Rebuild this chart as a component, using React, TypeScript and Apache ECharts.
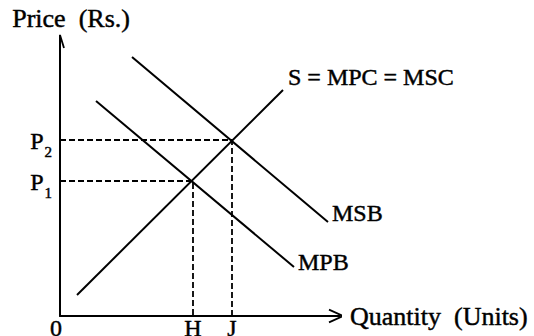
import React, { useEffect, useRef } from "react";
import * as echarts from "echarts";

// Curves in (quantity, price) units
const supplyLine: number[][] = [[0.85, 1.05], [11.15, 11.3]];
const msbLine: number[][] = [[3.6, 12.95], [13.4, 4.7]];
const mpbLine: number[][] = [[1.8, 10.75], [11.7, 2.45]];
// Equilibria: quantities H, J and prices P1, P2
const equilibriumQ: number[] = [6.65, 8.6];
const equilibriumP: number[] = [6.75, 8.8];
const qLabels: string[] = ["H", "J"];
const pSubscripts: string[] = ["1", "2"];
const curveNames: string[] = ["S = MPC = MSC", "MSB", "MPB"];
const xTitle = "Quantity  (Units)";
const yTitle = "Price  (Rs.)";
const axisMax = 14;

const FONT = "'Liberation Serif', 'Times New Roman', serif";
const BOLDEN = { textBorderColor: "#000", textBorderWidth: 0.45 };

export default function App() {
  const ref = useRef<HTMLDivElement>(null);
  useEffect(() => {
    document.body.style.margin = "0";
    if (!ref.current) return;
    const chart = echarts.init(ref.current, null, { renderer: "svg" });
    const black = "#000";
    const solid = { color: black, width: 2 };
    const dashed = { color: black, width: 1.8, type: [6, 3] as any };

    const curve = (name: string, data: number[][], offset: number[]) => ({
      type: "line",
      name,
      data,
      symbol: "none",
      lineStyle: solid,
      silent: true,
      endLabel: {
        show: true,
        formatter: name,
        offset,
        distance: 0,
        align: "left",
        verticalAlign: "middle",
        fontFamily: FONT,
        fontSize: 24,
        color: black,
        ...BOLDEN,
      },
    });

    const guides = equilibriumQ.map((q, i) => ({
      type: "line",
      data: [[0, equilibriumP[i]], [q, equilibriumP[i]], [q, 0]],
      symbol: "none",
      lineStyle: dashed,
      silent: true,
    }));

    const arrows = [
      [[axisMax - 0.55, 0.32], [axisMax + 0.15, 0], [axisMax - 0.55, -0.32]],
      [[-0.2, axisMax - 0.6], [0, axisMax + 0.05], [0.2, axisMax - 0.6]],
    ].map((d) => ({
      type: "line",
      data: d,
      symbol: "none",
      clip: false,
      lineStyle: { color: black, width: 1.8 },
      silent: true,
    }));

    chart.setOption({
      animation: false,
      backgroundColor: "#fff",
      grid: { left: 60, top: 36, width: 280, height: 280, outerBoundsMode: "none" },
      xAxis: {
        type: "value",
        min: 0,
        max: axisMax,
        splitLine: { show: false },
        axisTick: { show: false },
        axisLine: { show: true, onZero: false, lineStyle: solid },
        name: xTitle,
        nameLocation: "end",
        nameGap: 10,
        nameTextStyle: {
          fontFamily: FONT,
          fontSize: 26,
          color: black,
          align: "left",
          verticalAlign: "middle",
          ...BOLDEN,
        },
        axisLabel: {
          customValues: [0, ...equilibriumQ],
          margin: 0,
          verticalAlign: "top",
          fontFamily: FONT,
          fontSize: 24,
          color: black,
          ...BOLDEN,
          formatter: (v: number) => {
            const i = equilibriumQ.indexOf(v);
            return i < 0 ? "{z|0}" : qLabels[i];
          },
          rich: { z: { fontFamily: FONT, fontSize: 24, color: black, padding: [0, 8, 0, 0], ...BOLDEN } },
        },
      },
      yAxis: {
        type: "value",
        min: 0,
        max: axisMax,
        splitLine: { show: false },
        axisTick: { show: false },
        axisLine: { show: true, onZero: false, lineStyle: solid },
        axisLabel: {
          customValues: equilibriumP,
          margin: 8,
          padding: [8, 0, 0, 0],
          fontFamily: FONT,
          fontSize: 24,
          color: black,
          formatter: (v: number) => {
            const i = equilibriumP.indexOf(v);
            return `{p|P}{s|${pSubscripts[i]}}`;
          },
          rich: {
            p: { fontFamily: FONT, fontSize: 24, color: black, lineHeight: 30, verticalAlign: "top", ...BOLDEN },
            s: { fontFamily: FONT, fontSize: 15, color: black, lineHeight: 30, verticalAlign: "bottom", padding: [0, 0, 0, 1], ...BOLDEN },
          },
        },
      },
      graphic: [
        {
          type: "text",
          left: 12,
          top: 5,
          style: { text: yTitle, fontFamily: FONT, fontSize: 26, fill: black, stroke: black, lineWidth: 0.45 },
        },
      ],
      series: [
        curve(curveNames[0], supplyLine, [5, -13]),
        curve(curveNames[1], msbLine, [4, -9]),
        curve(curveNames[2], mpbLine, [4, -5]),
        ...guides,
        ...arrows,
      ],
    });
    return () => chart.dispose();
  }, []);
  return <div ref={ref} style={{ width: 534, height: 336 }} />;
}
